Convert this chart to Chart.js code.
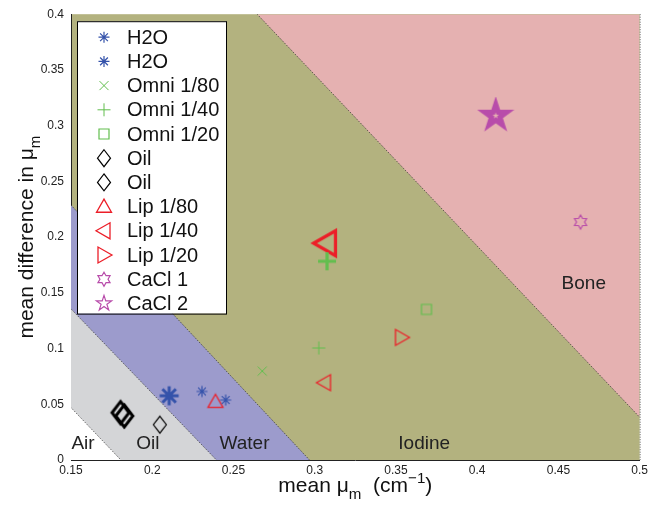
<!DOCTYPE html>
<html>
<head>
<meta charset="utf-8">
<script src="https://cdn.jsdelivr.net/npm/chart.js@4.4.1/dist/chart.umd.min.js"></script>
<style>
  html, body { margin: 0; padding: 0; background: #fff; }
  canvas { display: block; }
</style>
</head>
<body>
<canvas id="myChart" width="651" height="506"></canvas>
<script>
// measured samples: [mean mu_m, mean difference in mu_m]
const h2o = [[0.2306, 0.0615], [0.2452, 0.0538]];
const h2oBold = [[0.2104, 0.0576]];
const omni80 = [[0.2677, 0.0798]];
const omni40 = [[0.3025, 0.1005]];
const omni40Bold = [[0.3076, 0.1783]];
const omni20 = [[0.3688, 0.1351]];
const oil = [[0.2047, 0.0317]];
const oilBold = [[0.1805, 0.0425], [0.1828, 0.0395]];
const lip80 = [[0.2389, 0.0523]];
const lip40 = [[0.306, 0.0694]];
const lip40Bold = [[0.307, 0.1945]];
const lip20 = [[0.3534, 0.11]];
const cacl1 = [[0.4636, 0.2135]];
const cacl2 = [[0.4114, 0.3089]];

// class boundaries (end points of each dividing line)
const airLine = [[0.15, 0.047], [0.1807, 0]];
const oilLine = [[0.15, 0.1356], [0.2395, 0]];
const waterLine = [[0.15, 0.2287], [0.2968, 0]];
const boneLine = [[0.2646, 0.4], [0.5, 0.0384]];

// region names and where they sit
const regionNames = ["Air", "Oil", "Water", "Iodine", "Bone"];
const regionAt = [[0.1574, 0.0098], [0.1973, 0.0098], [0.2568, 0.0098], [0.3674, 0.0098], [0.4656, 0.1532]];

const xTicks = [0.15, 0.2, 0.25, 0.3, 0.35, 0.4, 0.45, 0.5];
const yTicks = [0, 0.05, 0.1, 0.15, 0.2, 0.25, 0.3, 0.35, 0.4];

const BLUE = "rgb(52, 82, 170)";
const GREEN = "rgb(98, 190, 78)";
const RED = "rgb(236, 30, 40)";
const MAGENTA = "rgb(184, 76, 170)";
const FONT = "'Liberation Sans', Arial, Helvetica, sans-serif";

function drawMarker(ctx, m, cx, cy) {
  const r = m.r;
  ctx.save();
  ctx.strokeStyle = m.color;
  ctx.lineWidth = m.lw;
  ctx.lineJoin = "miter";
  ctx.beginPath();
  if (m.kind === "asterisk") {
    for (let k = 0; k < 4; k++) {
      const a = (k * Math.PI) / 4;
      ctx.moveTo(cx - r * Math.cos(a), cy - r * Math.sin(a));
      ctx.lineTo(cx + r * Math.cos(a), cy + r * Math.sin(a));
    }
  } else if (m.kind === "x") {
    ctx.moveTo(cx - r, cy - r);
    ctx.lineTo(cx + r, cy + r);
    ctx.moveTo(cx + r, cy - r);
    ctx.lineTo(cx - r, cy + r);
  } else if (m.kind === "plus") {
    ctx.moveTo(cx - r, cy);
    ctx.lineTo(cx + r, cy);
    ctx.moveTo(cx, cy - r);
    ctx.lineTo(cx, cy + r);
  } else if (m.kind === "square") {
    ctx.rect(cx - r, cy - r, 2 * r, 2 * r);
  } else if (m.kind === "diamond") {
    const h = r * 1.3;
    ctx.moveTo(cx, cy - h);
    ctx.lineTo(cx + r, cy);
    ctx.lineTo(cx, cy + h);
    ctx.lineTo(cx - r, cy);
    ctx.closePath();
  } else if (m.kind === "triUp") {
    ctx.moveTo(cx, cy - r);
    ctx.lineTo(cx + r, cy + 0.75 * r);
    ctx.lineTo(cx - r, cy + 0.75 * r);
    ctx.closePath();
  } else if (m.kind === "triLeft") {
    ctx.moveTo(cx - r, cy);
    ctx.lineTo(cx + 0.75 * r, cy - r);
    ctx.lineTo(cx + 0.75 * r, cy + r);
    ctx.closePath();
  } else if (m.kind === "triRight") {
    ctx.moveTo(cx + r, cy);
    ctx.lineTo(cx - 0.75 * r, cy - r);
    ctx.lineTo(cx - 0.75 * r, cy + r);
    ctx.closePath();
  } else if (m.kind === "hexagram" || m.kind === "pentagram") {
    const n = m.kind === "hexagram" ? 6 : 5;
    const inner = m.kind === "hexagram" ? r / Math.sqrt(3) : r * 0.382;
    for (let k = 0; k < 2 * n; k++) {
      const a = -Math.PI / 2 + (k * Math.PI) / n;
      const rr = k % 2 === 0 ? r : inner;
      const px = cx + rr * Math.cos(a);
      const py = cy + rr * Math.sin(a);
      if (k === 0) ctx.moveTo(px, py);
      else ctx.lineTo(px, py);
    }
    ctx.closePath();
  }
  ctx.stroke();
  ctx.restore();
}

function markerImage(m) {
  const size = 2 * Math.ceil(r2(m) + m.lw + 2);
  const c = document.createElement("canvas");
  c.width = size;
  c.height = size;
  drawMarker(c.getContext("2d"), m, size / 2, size / 2);
  return c;
}
function r2(m) {
  return m.kind === "diamond" ? m.r * 1.3 : m.r;
}

const mk = {
  h2o: { kind: "asterisk", r: 5.5, lw: 1.2, color: BLUE },
  h2oBold: { kind: "asterisk", r: 9.5, lw: 3, color: BLUE },
  omni80: { kind: "x", r: 4.5, lw: 1, color: GREEN },
  omni40: { kind: "plus", r: 6.5, lw: 1, color: GREEN },
  omni40Bold: { kind: "plus", r: 9, lw: 3.2, color: GREEN },
  omni20: { kind: "square", r: 5, lw: 1.2, color: GREEN },
  oil: { kind: "diamond", r: 6.5, lw: 1.2, color: "#000" },
  oilBold: { kind: "diamond", r: 8.5, lw: 3, color: "#000" },
  lip80: { kind: "triUp", r: 7.5, lw: 1.3, color: RED },
  lip40: { kind: "triLeft", r: 8, lw: 1.3, color: RED },
  lip40Bold: { kind: "triLeft", r: 12.5, lw: 3.2, color: RED },
  lip20: { kind: "triRight", r: 8, lw: 1.3, color: RED },
  cacl1: { kind: "hexagram", r: 7, lw: 1.2, color: MAGENTA },
  cacl2: { kind: "pentagram", r: 8, lw: 1.2, color: MAGENTA },
  cacl2Bold: { kind: "pentagram", r: 11.5, lw: 5, color: MAGENTA },
};

const pts = (arr) => arr.map((p) => ({ x: p[0], y: p[1] }));

function points(label, data, m, legendMark) {
  return {
    label: label,
    data: pts(data),
    pointStyle: markerImage(m),
    pointRadius: 5,
    showLine: false,
    order: 0,
    legendMark: legendMark,
  };
}

function region(data, color, fill, order) {
  return {
    data: pts(data),
    showLine: true,
    pointRadius: 0,
    borderColor: "rgba(40, 40, 40, 0.85)",
    borderWidth: 1,
    borderDash: [1, 1.5],
    backgroundColor: color,
    fill: fill,
    order: order,
  };
}

const datasets = [
  points("H2O", h2o, mk.h2o, mk.h2o),
  points("H2O", h2oBold, mk.h2oBold, mk.h2o),
  points("Omni 1/80", omni80, mk.omni80, mk.omni80),
  points("Omni 1/40", omni40, mk.omni40, mk.omni40),
  points("Omni 1/20", omni20, mk.omni20, mk.omni20),
  points("Oil", oil, mk.oil, mk.oil),
  points("Oil", oilBold, mk.oilBold, mk.oil),
  points("Lip 1/80", lip80, mk.lip80, mk.lip80),
  points("Lip 1/40", lip40, mk.lip40, mk.lip40),
  points("Lip 1/20", lip20, mk.lip20, mk.lip20),
  points("CaCl 1", cacl1, mk.cacl1, mk.cacl1),
  points("CaCl 2", cacl2, mk.cacl2Bold, mk.cacl2),
  points("", omni40Bold, mk.omni40Bold, null),
  points("", lip40Bold, mk.lip40Bold, null),
  region(waterLine, "rgb(156, 155, 204)", "origin", 6),
  region(oilLine, "rgb(212, 213, 215)", "origin", 5),
  region(airLine, "#ffffff", "origin", 4),
  region(boneLine, "rgb(229, 177, 177)", "end", 3),
];

const plotBg = {
  id: "plotBg",
  beforeDraw(chart) {
    const { ctx, chartArea: a } = chart;
    ctx.save();
    ctx.fillStyle = "rgb(179, 178, 127)";
    ctx.fillRect(a.left, a.top, a.right - a.left, a.bottom - a.top);
    ctx.restore();
  },
};

const overlays = {
  id: "overlays",
  afterDatasetsDraw(chart) {
    const { ctx, chartArea: a, scales } = chart;
    ctx.save();
    // dotted right frame
    ctx.strokeStyle = "rgba(60, 60, 60, 0.8)";
    ctx.lineWidth = 1;
    ctx.setLineDash([1, 1.5]);
    ctx.beginPath();
    ctx.moveTo(a.right + 0.5, a.top);
    ctx.lineTo(a.right + 0.5, a.bottom);
    ctx.stroke();
    ctx.setLineDash([]);

    // region names
    ctx.fillStyle = "#222";
    ctx.font = "19px " + FONT;
    ctx.textAlign = "center";
    ctx.textBaseline = "alphabetic";
    regionNames.forEach((name, i) => {
      ctx.fillText(name, scales.x.getPixelForValue(regionAt[i][0]), scales.y.getPixelForValue(regionAt[i][1]));
    });

    // legend box
    const items = chart.data.datasets.filter((d) => d.legendMark);
    const left = a.left + 6;
    const top = a.top + 7;
    const rowH = 24.2;
    ctx.fillStyle = "#fff";
    ctx.fillRect(left, top, 149, items.length * rowH + 2);
    ctx.strokeStyle = "#000";
    ctx.lineWidth = 1;
    ctx.strokeRect(left + 0.5, top + 0.5, 149, items.length * rowH + 2);
    ctx.font = "20px " + FONT;
    ctx.textAlign = "left";
    ctx.textBaseline = "middle";
    items.forEach((d, i) => {
      const y = top + 16 + i * rowH;
      drawMarker(ctx, d.legendMark, left + 27, y);
      ctx.fillStyle = "#111";
      ctx.fillText(d.label, left + 50, y + 1);
    });
    ctx.restore();
  },
};

function richText(ctx, parts, size) {
  // parts: [text, kind] where kind is "", "sub" or "sup"
  const widths = parts.map(([t, k]) => {
    ctx.font = (k ? size * 0.72 : size) + "px " + FONT;
    return ctx.measureText(t).width;
  });
  const total = widths.reduce((s, w) => s + w, 0);
  let x = -total / 2;
  parts.forEach(([t, k], i) => {
    ctx.font = (k ? size * 0.72 : size) + "px " + FONT;
    const dy = k === "sub" ? size * 0.32 : k === "sup" ? -size * 0.45 : 0;
    ctx.fillText(t, x, dy);
    x += widths[i];
  });
}

const axisTitles = {
  id: "axisTitles",
  afterDraw(chart) {
    const { ctx, chartArea: a } = chart;
    ctx.save();
    ctx.fillStyle = "#111";
    ctx.textAlign = "left";
    ctx.textBaseline = "alphabetic";
    ctx.translate((a.left + a.right) / 2, 492);
    richText(ctx, [["mean \u03bc", ""], ["m", "sub"], ["  (cm", ""], ["\u22121", "sup"], [")", ""]], 21);
    ctx.restore();

    ctx.save();
    ctx.fillStyle = "#111";
    ctx.textAlign = "left";
    ctx.textBaseline = "alphabetic";
    ctx.translate(33, (a.top + a.bottom) / 2);
    ctx.rotate(-Math.PI / 2);
    richText(ctx, [["mean difference in \u03bc", ""], ["m", "sub"]], 21);
    ctx.restore();
  },
};

const fmt = (v) => String(Number(Number(v).toFixed(3)));

new Chart(document.getElementById("myChart"), {
  type: "scatter",
  data: { datasets: datasets },
  options: {
    responsive: false,
    animation: false,
    devicePixelRatio: 1,
    events: [],
    layout: { padding: { top: 9, right: 10, left: 0, bottom: 0 } },
    plugins: {
      legend: { display: false },
      tooltip: { enabled: false },
    },
    scales: {
      x: {
        type: "linear",
        min: xTicks[0],
        max: xTicks[xTicks.length - 1],
        afterBuildTicks: (s) => { s.ticks = xTicks.map((v) => ({ value: v })); },
        afterFit: (s) => { s.height = 46; },
        grid: { display: false, drawTicks: false },
        border: { display: true, color: "#222", width: 1 },
        ticks: {
          padding: 3,
          color: "#222",
          font: { family: FONT, size: 12 },
          callback: fmt,
        },
      },
      y: {
        type: "linear",
        min: yTicks[0],
        max: yTicks[yTicks.length - 1],
        afterBuildTicks: (s) => { s.ticks = yTicks.map((v) => ({ value: v })); },
        afterFit: (s) => { s.width = 71; },
        grid: { display: false, drawTicks: false },
        border: { display: true, color: "#222", width: 1 },
        ticks: {
          padding: 7,
          color: "#222",
          font: { family: FONT, size: 12 },
          callback: fmt,
        },
      },
    },
  },
  plugins: [plotBg, overlays, axisTitles],
});
</script>
</body>
</html>
